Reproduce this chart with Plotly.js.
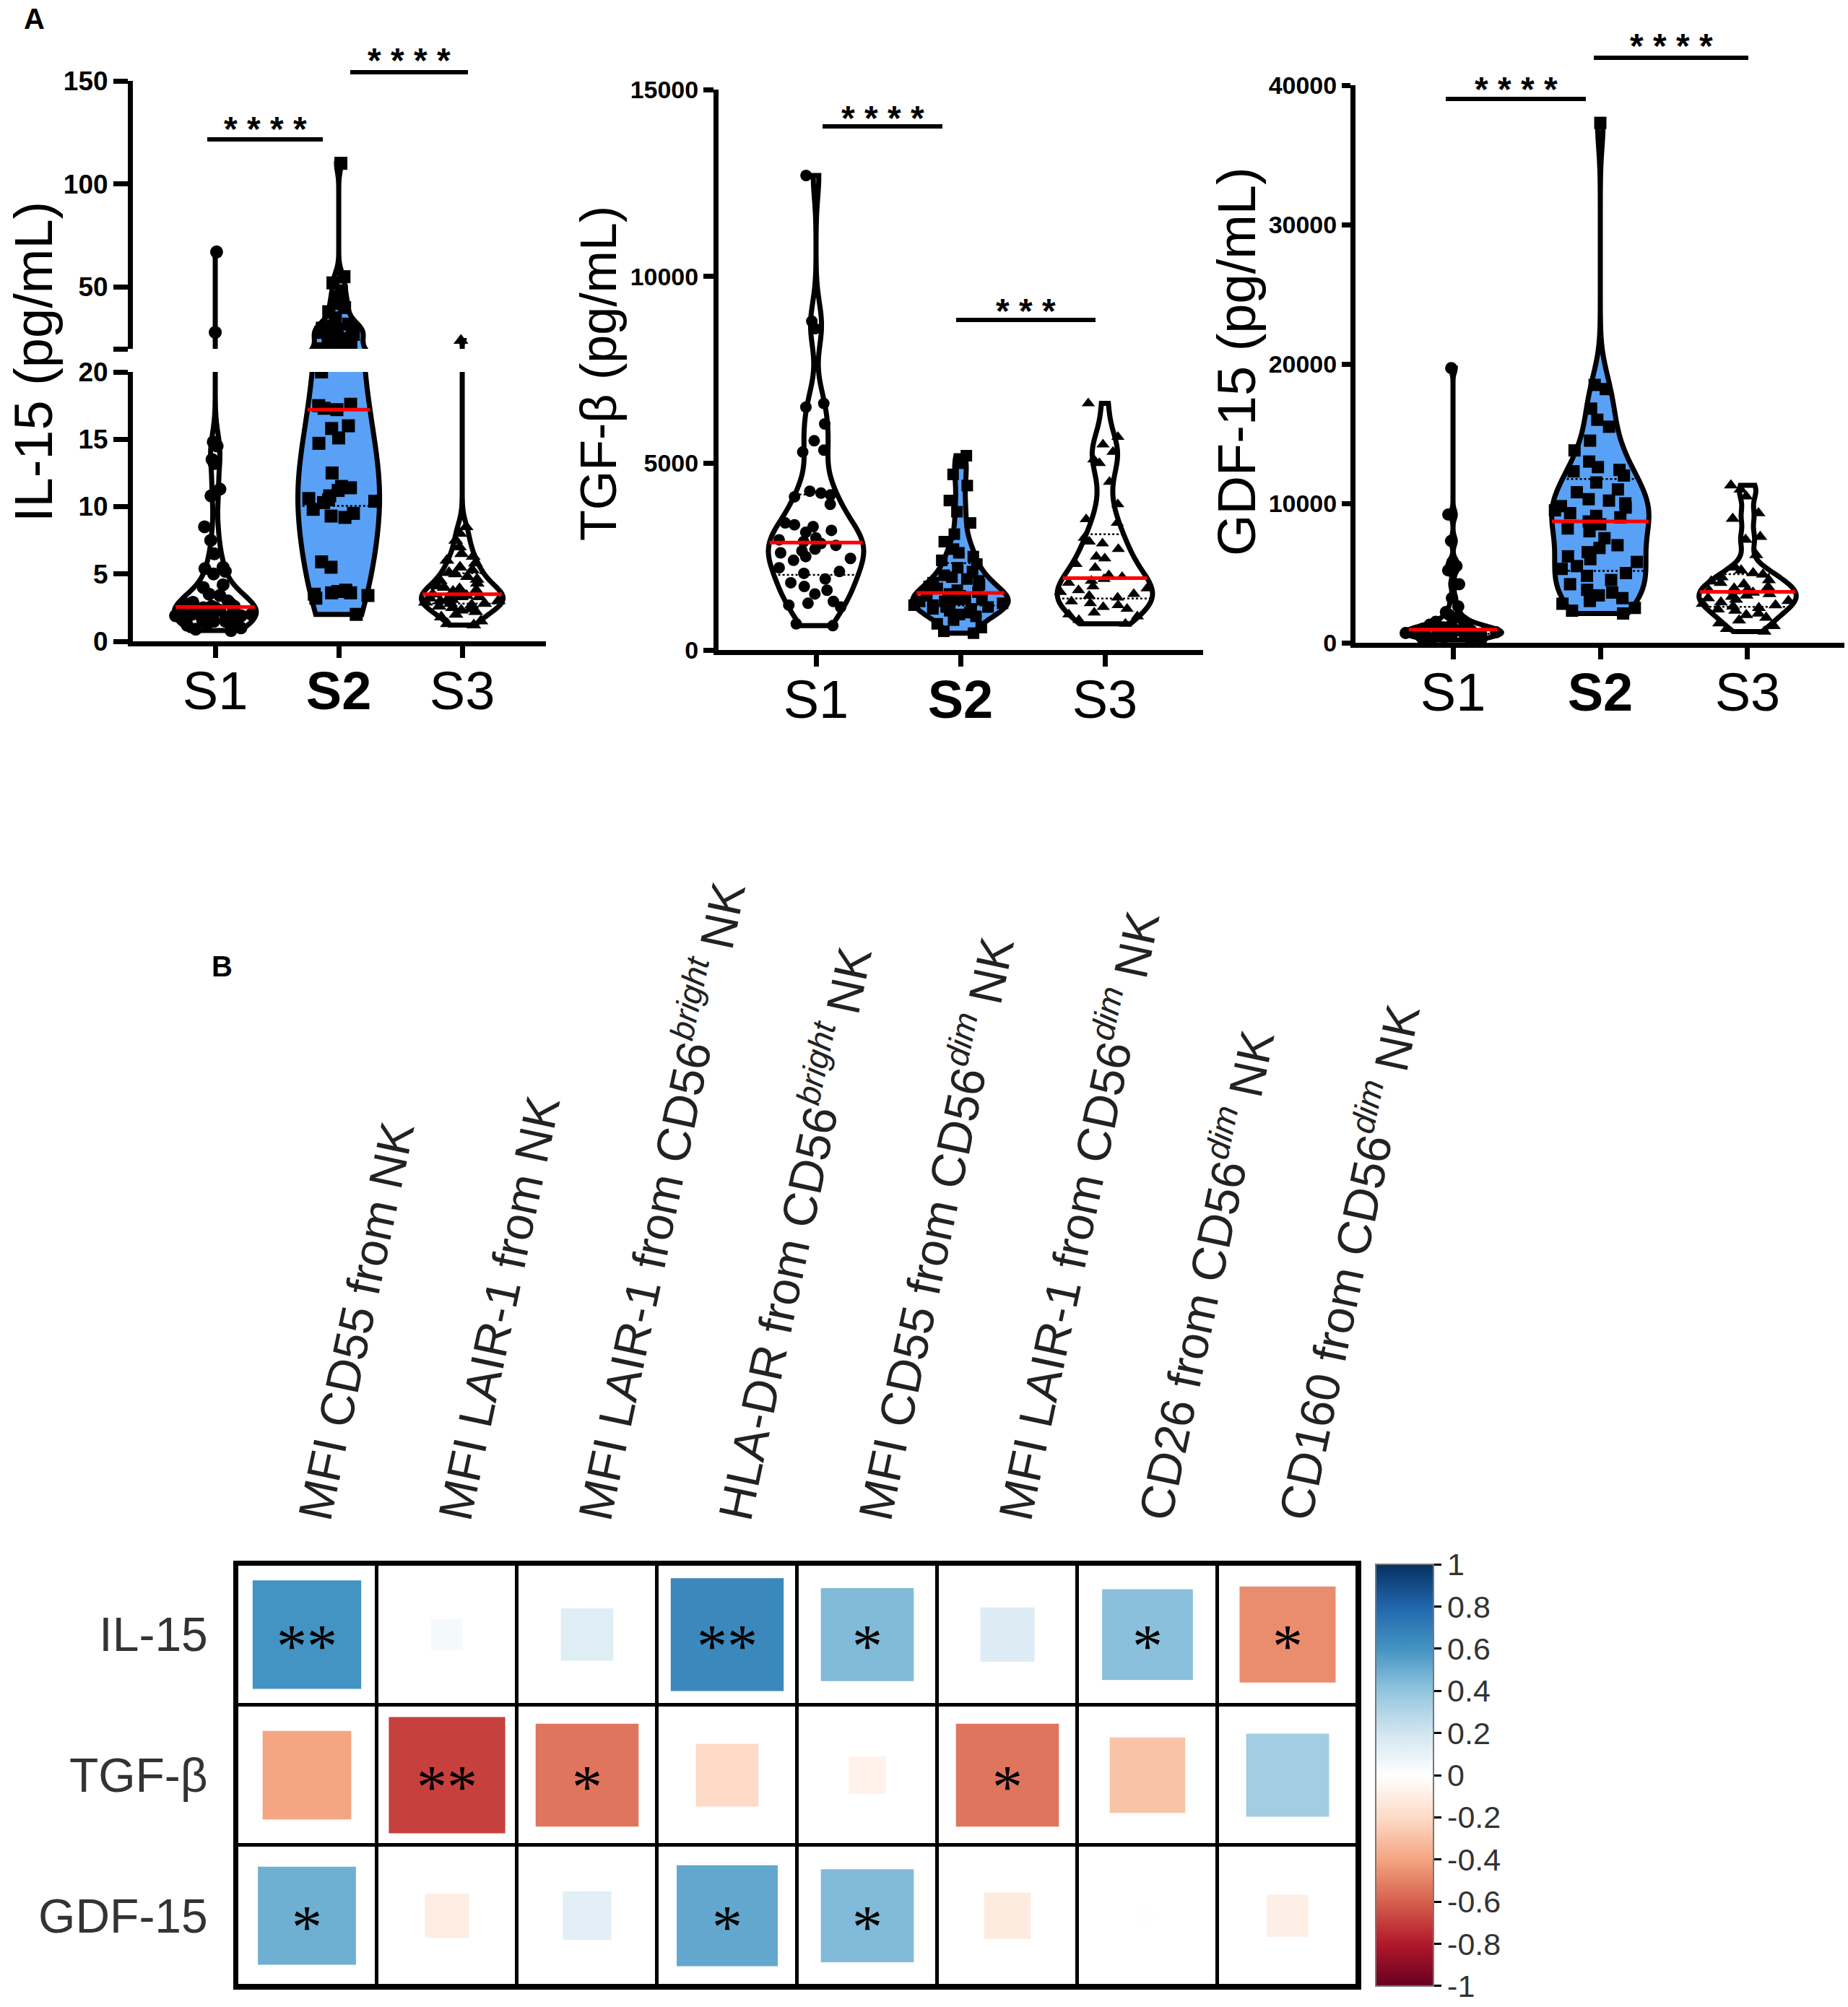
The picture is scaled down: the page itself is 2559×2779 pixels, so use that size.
<!DOCTYPE html>
<html><head><meta charset="utf-8">
<script src="https://cdn.plot.ly/plotly-3.0.1.min.js"></script>
<style>html,body{margin:0;padding:0;background:#fff}#plot{width:2559px;height:2779px}</style>
</head><body><div id="plot"></div>
<script>
// ---------------- DATA ----------------
const groups = ['S1', 'S2', 'S3'];
const groupTicks = ['S1', '<b>S2</b>', 'S3'];

const il15_S1 = [67, 28, 14.8, 14.5, 13.5, 13.2, 11.3, 10.8, 8.5, 7.5, 6.5, 5.5, 5.4, 5.2, 5.0, 4.2, 4.0, 3.5, 3.4, 3.0, 2.9, 2.8, 2.8, 2.7, 2.6, 2.6, 2.5, 2.5, 2.4, 2.4, 2.3, 2.3, 2.2, 2.2, 2.1, 2.1, 2.0, 2.0, 1.9, 1.9, 1.8, 1.8, 1.7, 1.6, 1.5, 1.5, 1.4, 1.3, 1.2, 1.0, 0.9, 0.8];
const il15_S2 = [110, 55, 52, 48, 45, 42, 40, 38, 35, 32, 31, 30, 30, 29.5, 29, 28, 27, 26, 25, 24, 23, 22, 21, 20, 17.6, 17.5, 17.3, 17.2, 16.0, 15.8, 15.1, 14.7, 12.5, 11.5, 11.4, 11.2, 10.8, 10.6, 10.5, 10.4, 10.3, 9.8, 9.5, 9.3, 9.2, 5.9, 5.5, 3.8, 3.7, 3.6, 3.6, 3.5, 3.4, 3.2, 2.0];
const il15_S3 = [24, 8.5, 8.0, 7.5, 7.0, 6.5, 6.3, 6.0, 5.8, 5.5, 5.3, 5.1, 5.0, 4.8, 4.6, 4.5, 4.3, 4.1, 4.0, 3.9, 3.8, 3.7, 3.6, 3.5, 3.5, 3.4, 3.3, 3.3, 3.2, 3.2, 3.1, 3.0, 3.0, 2.9, 2.8, 2.8, 2.7, 2.6, 2.5, 2.4, 2.3, 2.2, 2.0, 1.8, 1.5, 1.3, 1.2];

const tgf_S1 = [12700, 8800, 8600, 6600, 6500, 6050, 5600, 5350, 5300, 4250, 4200, 4150, 4100, 3900, 3400, 3350, 3300, 3200, 3150, 3000, 2950, 2900, 2850, 2800, 2700, 2650, 2600, 2500, 2450, 2400, 2200, 2100, 2050, 1900, 1800, 1700, 1600, 1500, 1300, 1250, 1200, 1150, 700, 650];
const tgf_S2 = [5200, 5000, 4700, 4400, 4000, 3700, 3400, 3100, 2900, 2700, 2600, 2500, 2400, 2300, 2200, 2100, 2000, 1950, 1900, 1850, 1800, 1750, 1700, 1650, 1600, 1550, 1500, 1450, 1450, 1400, 1400, 1350, 1350, 1300, 1300, 1250, 1250, 1200, 1200, 1150, 1150, 1100, 1100, 1050, 1000, 950, 900, 800, 700, 600, 500, 450];
const tgf_S3 = [6600, 5700, 5500, 5300, 5100, 5000, 4500, 3900, 3500, 3400, 3000, 2900, 2850, 2700, 2500, 2450, 2300, 2200, 2000, 1950, 1900, 1850, 1800, 1700, 1650, 1600, 1550, 1500, 1450, 1400, 1300, 1250, 1200, 1150, 1100, 1000, 950, 900, 800, 700];

const gdf_S1 = [19700, 9200, 7300, 5800, 5500, 5200, 4200, 3200, 2600, 2200, 2000, 1800, 1600, 1500, 1400, 1300, 1250, 1200, 1150, 1100, 1050, 1000, 950, 900, 850, 850, 800, 800, 750, 750, 700, 700, 650, 650, 600, 600, 550, 500, 500, 450, 400, 350, 300, 250, 200];
const gdf_S2 = [37300, 18500, 18200, 16800, 16000, 15500, 14500, 13800, 13000, 12600, 12400, 12300, 12000, 11500, 11000, 10800, 10300, 10200, 10000, 9800, 9700, 9500, 9300, 9100, 9000, 8700, 8500, 8200, 8000, 7500, 7000, 6800, 6500, 6200, 6000, 5800, 5500, 5300, 5000, 4800, 4500, 4200, 3800, 3600, 3400, 3200, 3000, 2800, 2500, 2300, 2100];
const gdf_S3 = [11300, 11000, 10500, 9300, 8900, 7600, 7400, 6300, 5400, 5200, 5000, 4900, 4700, 4500, 4400, 4300, 4200, 4000, 3900, 3800, 3750, 3700, 3600, 3500, 3400, 3300, 3200, 3100, 3000, 2900, 2800, 2700, 2600, 2500, 2400, 2300, 2100, 2000, 1800, 1600, 1400, 1200, 1000, 800];

const yTitles = ['IL-15 (pg/mL)', 'TGF-β (pg/mL)', 'GDF-15 (pg/mL)'];

const heatRows = ['IL-15', 'TGF-β', 'GDF-15'];
const heatCols = [
  'MFI CD55 from NK',
  'MFI LAIR-1 from NK',
  'MFI LAIR-1 from CD56<sup><i>bright</i></sup> NK',
  'HLA-DR from CD56<sup><i>bright</i></sup> NK',
  'MFI CD55 from CD56<sup><i>dim</i></sup> NK',
  'MFI LAIR-1 from CD56<sup><i>dim</i></sup> NK',
  'CD26 from CD56<sup><i>dim</i></sup> NK',
  'CD160 from CD56<sup><i>dim</i></sup> NK'
];
const corrIL15 = [0.60, 0.05, 0.14, 0.65, 0.44, 0.15, 0.42, -0.47];
const corrTGF  = [-0.40, -0.69, -0.54, -0.20, -0.07, -0.54, -0.29, 0.35];
const corrGDF  = [0.49, -0.10, 0.12, 0.52, 0.44, -0.11, 0.01, -0.09];
const sigIL15 = ['**', '', '', '**', '*', '', '*', '*'];
const sigTGF  = ['', '**', '*', '', '', '*', '', ''];
const sigGDF  = ['*', '', '', '*', '*', '', '', ''];
const cbVals = [-1, -0.8, -0.6, -0.4, -0.2, 0, 0.2, 0.4, 0.6, 0.8, 1];
const cbText = ['-1', '-0.8', '-0.6', '-0.4', '-0.2', '0', '0.2', '0.4', '0.6', '0.8', '1'];

// ---------------- HELPERS ----------------
const W = 2559, H = 2779;
const px = x => x / W;
const py = y => 1 - y / H;
const fam = 'Liberation Sans, Arial, sans-serif';
const famN = 'Liberation Sans Narrow, Liberation Sans, Arial, sans-serif';

function stats(v) {
  const s = [...v].sort((a, b) => a - b), n = s.length;
  const q = p => { const i = p * (n - 1), lo = Math.floor(i), hi = Math.ceil(i); return s[lo] + (s[hi] - s[lo]) * (i - lo); };
  const mean = s.reduce((a, b) => a + b, 0) / n;
  const sd = Math.sqrt(s.reduce((a, b) => a + (b - mean) ** 2, 0) / (n - 1));
  return { s, n, min: s[0], max: s[n - 1], q1: q(0.25), med: q(0.5), q3: q(0.75), sd };
}
function bandwidth(st, f) {
  const sil = 1.059 * Math.min(st.sd, (st.q3 - st.q1) / 1.349) * Math.pow(st.n, -0.2);
  return Math.max(sil * f, (st.max - st.min) / 100);
}
function kde(st, b, y) { let d = 0; for (const v of st.s) { const u = (y - v) / b; d += Math.exp(-0.5 * u * u); } return d; }
function halfWidth(st, b, y, w) {
  let mx = 0; const N = 800;
  for (let i = 0; i <= N; i++) { mx = Math.max(mx, kde(st, b, st.min + (st.max - st.min) * i / N)); }
  return kde(st, b, y) / mx * w / 2;
}

// ---------------- VIOLINS ----------------
const panels = [
  { data: [il15_S1, il15_S2, il15_S3], subs: [['x', 'y'], ['x2', 'y2']], msize: 18, bwf: [1, 0.6, 1] },
  { data: [tgf_S1, tgf_S2, tgf_S3], subs: [['x3', 'y3']], msize: 16, bwf: [0.75, 0.75, 0.75] },
  { data: [gdf_S1, gdf_S2, gdf_S3], subs: [['x4', 'y4']], msize: 17, bwf: [0.75, 0.75, 0.75] }
];
const symbols = ['circle', 'square', 'triangle-up'];
const fills = ['white', 'rgb(88,161,247)', 'white'];
const VW = 0.66;
const violinTraces = [], pointTraces = [], lineTraces = [];

panels.forEach(p => {
  p.data.forEach((vals, g) => {
    const st = stats(vals), b = bandwidth(st, p.bwf[g]);
    p.subs.forEach(([xa, ya]) => {
      violinTraces.push({
        type: 'violin', x0: g, y: vals, xaxis: xa, yaxis: ya, width: VW, scalemode: 'width',
        spanmode: 'hard', bandwidth: b, fillcolor: fills[g], line: { color: 'black', width: 7 },
        points: false, box: { visible: false }, meanline: { visible: false },
        hoverinfo: 'skip', showlegend: false
      });
      pointTraces.push({
        type: 'violin', x0: g, y: vals, xaxis: xa, yaxis: ya, width: VW, scalemode: 'width',
        spanmode: 'hard', bandwidth: b, fillcolor: 'rgba(0,0,0,0)', line: { color: 'rgba(0,0,0,0)', width: 0 },
        points: 'all', pointpos: 0, jitter: 1,
        marker: { symbol: symbols[g], size: p.msize, color: 'black', line: { width: 0 } },
        box: { visible: false }, meanline: { visible: false }, hoverinfo: 'skip', showlegend: false
      });
      const hm = halfWidth(st, b, st.med, VW);
      lineTraces.push({ type: 'scatter', mode: 'lines', x: [g - hm, g + hm], y: [st.med, st.med], xaxis: xa, yaxis: ya,
        line: { color: 'red', width: 5 }, hoverinfo: 'skip', showlegend: false });
      [st.q1, st.q3].forEach(qv => {
        const hq = halfWidth(st, b, qv, VW);
        lineTraces.push({ type: 'scatter', mode: 'lines', x: [g - hq, g + hq], y: [qv, qv], xaxis: xa, yaxis: ya,
          line: { color: 'black', width: 2.5, dash: 'dot' }, hoverinfo: 'skip', showlegend: false });
      });
    });
  });
});

// ---------------- HEATMAP ----------------
const corr = [corrIL15, corrTGF, corrGDF];
const sig = [sigIL15, sigTGF, sigGDF];
const colIdx = heatCols.map((_, i) => i);
const rowIdx = heatRows.map((_, i) => i);
const hx0 = 328, hx1 = 1880, hy0 = 2166, hy1 = 2750;
const cellPx = (hx1 - hx0) / heatCols.length;
const RdBu = [[0, '#67001F'], [0.1, '#B2182B'], [0.2, '#D6604D'], [0.3, '#F4A582'], [0.4, '#FDDBC7'], [0.5, '#FFFFFF'],
  [0.6, '#D1E5F0'], [0.7, '#92C5DE'], [0.8, '#4393C3'], [0.9, '#2166AC'], [1, '#053061']];

const gridBlack = { type: 'heatmap', x: colIdx, y: rowIdx, z: corr, colorscale: [[0, 'black'], [1, 'black']], showscale: false,
  xaxis: 'x5', yaxis: 'y5', hoverinfo: 'skip' };
const gridWhite = { type: 'heatmap', x: colIdx, y: rowIdx, z: corr, colorscale: [[0, 'white'], [1, 'white']], showscale: false,
  xgap: 5, ygap: 5, xaxis: 'x5', yaxis: 'y5', hoverinfo: 'skip' };

const sx = [], sy = [], sv = [], ss = [];
rowIdx.forEach(i => colIdx.forEach(j => {
  sx.push(j); sy.push(i); sv.push(corr[i][j]); ss.push(Math.sqrt(Math.abs(corr[i][j])) * cellPx);
}));
const squares = {
  type: 'scatter', mode: 'markers', x: sx, y: sy, xaxis: 'x5', yaxis: 'y5', hoverinfo: 'skip', showlegend: false,
  marker: {
    symbol: 'square', size: ss, sizemode: 'diameter', opacity: 1, color: sv, colorscale: RdBu, cmin: -1, cmax: 1,
    line: { width: 0 }, showscale: true,
    colorbar: {
      x: px(1905), xanchor: 'left', y: py((hy0 + hy1) / 2), yanchor: 'middle', len: hy1 - hy0, lenmode: 'pixels',
      thickness: 80, thicknessmode: 'pixels', outlinewidth: 2, outlinecolor: '#777', xpad: 0, ypad: 0,
      tickmode: 'array', tickvals: cbVals.map(v => v * 0.9995), ticktext: cbText, ticks: 'outside', ticklen: 10, tickwidth: 3, tickcolor: 'black',
      ticklabeloverflow: 'allow',
      tickfont: { family: famN, size: 43, color: '#333' }
    }
  }
};

// ---------------- LAYOUT ----------------
const baseAx = { showline: true, linecolor: 'black', linewidth: 7, ticks: 'outside', tickcolor: 'black', tickwidth: 7,
  zeroline: false, showgrid: false, fixedrange: true, type: 'linear' };
const xTick = { ...baseAx, tickmode: 'array', tickvals: [0, 1, 2], ticktext: groupTicks, ticklen: 16, ticklabelstandoff: -18,
  tickfont: { family: fam, size: 74, color: 'black' } };
const yTick = { ...baseAx, tickmode: 'array', ticklen: 14, tickformat: 'd',
  tickfont: { family: fam, size: 34, color: 'black', weight: 'bold' } };
const yTickIL = { ...yTick, ticklen: 20, tickfont: { family: fam, size: 37, color: 'black', weight: 'bold' } };

const shapes = [];
const annotations = [];
function sigBar(x0, x1, y, ystar, text) {
  shapes.push({ type: 'line', xref: 'paper', yref: 'paper', x0: px(x0), x1: px(x1), y0: py(y), y1: py(y), line: { color: 'black', width: 6 } });
  annotations.push({ xref: 'paper', yref: 'paper', x: px((x0 + x1) / 2), y: py(ystar + 12), text: text, showarrow: false,
    xanchor: 'center', yanchor: 'middle', font: { family: fam, size: 48, color: 'black', weight: 'bold' } });
}
sigBar(287, 447, 193, 167, '* * * *');
sigBar(485, 648, 100, 72, '* * * *');
sigBar(1139, 1305, 175, 151, '* * * *');
sigBar(1324, 1517, 443, 419, '* * *');
sigBar(2002, 2196, 137, 112, '* * * *');
sigBar(2207, 2421, 80, 52, '* * * *');

[[46, 501, 74], [829, 517, 70], [1712, 501, 74]].forEach((t, i) => {
  annotations.push({ xref: 'paper', yref: 'paper', x: px(t[0]), y: py(t[1]), text: yTitles[i], textangle: -90, showarrow: false,
    xanchor: 'center', yanchor: 'middle', font: { family: fam, size: t[2], color: 'black' } });
});
annotations.push({ xref: 'paper', yref: 'paper', x: px(47), y: py(26), text: '<b>A</b>', showarrow: false, xanchor: 'center', yanchor: 'middle', font: { family: fam, size: 40, color: 'black' } });
annotations.push({ xref: 'paper', yref: 'paper', x: px(307), y: py(1338), text: '<b>B</b>', showarrow: false, xanchor: 'center', yanchor: 'middle', font: { family: fam, size: 40, color: 'black' } });

rowIdx.forEach(i => colIdx.forEach(j => {
  if (sig[i][j]) annotations.push({ xref: 'x5', yref: 'y5', x: j, y: i, yshift: -16, text: sig[i][j], showarrow: false,
    xanchor: 'center', yanchor: 'middle', font: { family: 'Liberation Serif, Times New Roman, serif', size: 84, color: 'black' } });
}));

const layout = {
  width: W, height: H, margin: { l: 0, r: 0, t: 0, b: 0 }, paper_bgcolor: 'white', plot_bgcolor: 'white',
  showlegend: false, violinmode: 'overlay', shapes, annotations,
  xaxis: { ...xTick, domain: [px(184), px(756)], range: [-0.667, 2.678], anchor: 'y' },
  yaxis: { ...yTickIL, domain: [py(888), py(515)], range: [0, 20], tickvals: [0, 5, 10, 15, 20], anchor: 'x' },
  xaxis2: { ...xTick, domain: [px(184), px(756)], range: [-0.667, 2.678], anchor: 'y2', visible: false },
  yaxis2: { ...yTickIL, domain: [py(483), py(112)], range: [20, 150], tickvals: [20, 50, 100, 150], ticktext: ['', '50', '100', '150'], anchor: 'x2' },
  xaxis3: { ...xTick, domain: [px(995), px(1666)], range: [-0.675, 2.68], anchor: 'y3' },
  yaxis3: { ...yTick, domain: [py(900), py(124)], range: [0, 15000], tickvals: [0, 5000, 10000, 15000], anchor: 'x3' },
  xaxis4: { ...xTick, domain: [px(1877), px(2554)], range: [-0.662, 2.657], anchor: 'y4' },
  yaxis4: { ...yTick, ticklen: 12, domain: [py(890), py(118)], range: [0, 40000], tickvals: [0, 10000, 20000, 30000, 40000], anchor: 'x4' },
  xaxis5: { domain: [px(hx0), px(hx1)], range: [-0.5, 7.5], anchor: 'y5', side: 'top', type: 'linear',
    tickmode: 'array', tickvals: colIdx, ticktext: heatCols, tickangle: -78, ticks: '', ticklabelstandoff: 0,
    showline: true, mirror: true, linecolor: 'black', linewidth: 5, showgrid: false, zeroline: false, fixedrange: true,
    tickfont: { family: fam, size: 66, color: '#222' } },
  yaxis5: { domain: [py(hy1), py(hy0)], range: [2.5, -0.5], anchor: 'x5', type: 'linear',
    tickmode: 'array', tickvals: rowIdx, ticktext: heatRows, ticks: '', ticklabelstandoff: 22,
    showline: true, mirror: true, linecolor: 'black', linewidth: 5, showgrid: false, zeroline: false, fixedrange: true,
    tickfont: { family: famN, size: 66, color: '#333' } }
};

const data = [...violinTraces, ...pointTraces, ...lineTraces, gridBlack, gridWhite, squares];
Plotly.newPlot('plot', data, layout, { displayModeBar: false, staticPlot: true });
</script>
</body></html>
